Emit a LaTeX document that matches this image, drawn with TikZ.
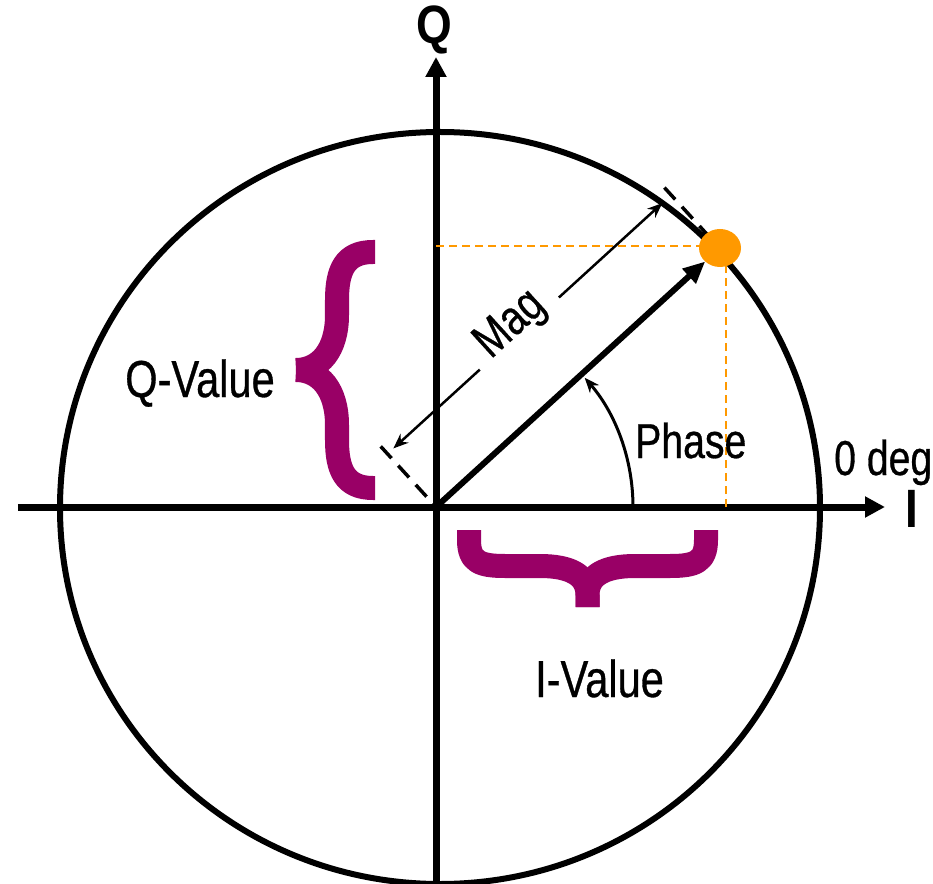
\documentclass[tikz,border=0pt]{standalone}
\usepackage{fontspec}
\setmainfont{Liberation Sans}[FakeStretch=0.8,FakeBold=0.6]
\newfontfamily\axfont{Liberation Sans}[FakeStretch=0.85]
\usetikzlibrary{arrows.meta,shapes.geometric}
\definecolor{braceP}{HTML}{990066}
\definecolor{dotO}{HTML}{FF9900}
\begin{document}
\begin{tikzpicture}[x=1pt,y=1pt,
  axisline/.style={line width=7pt,-{Triangle[length=20pt,width=20pt]}},
  circ/.style={line width=6pt},
  vec/.style={line width=6pt,-{Triangle[length=22pt,width=19pt]}},
  odash/.style={dotO,line width=2pt,dash pattern=on 8pt off 5pt},
  phasearc/.style={line width=3pt,-{Stealth[length=15pt,width=12pt]}},
  dimline/.style={line width=2.5pt,-{Stealth[length=15pt,width=12pt]}},
  extline/.style={line width=3.5pt,dash pattern=on 16pt off 10pt},
  brace/.style={draw=braceP,line width=24pt,line cap=butt,line join=round},
  lbl/.style={font=\fontsize{49}{53}\selectfont,inner sep=0pt},
  vlbl/.style={font=\fontsize{52}{56}\selectfont,inner sep=0pt},
  axlbl/.style={font=\axfont\bfseries\fontsize{54}{58}\selectfont,inner sep=0pt},
  dotstyle/.style={ellipse,fill=dotO,minimum width=42pt,minimum height=38pt,inner sep=0pt,outer sep=0pt}
]
\useasboundingbox (-436,-376) rectangle (497,507);
% circle
\draw[circ] (4,-1) ellipse [x radius=380, y radius=376];
% axes
\coordinate (O) at (0,0);
\coordinate (xl) at (-418,0);
\coordinate (xr) at (449,0);
\coordinate (yb) at (0,-380);
\coordinate (yt) at (0,450);
\draw[axisline] (xl) -- (xr);
\draw[axisline] (yb) -- (yt);
\fill (O) circle (5pt);
% orange projections
\coordinate (qh0) at (0,261);
\coordinate (qh1) at (284,261);
\coordinate (iv0) at (290,0);
\coordinate (iv1) at (290,261);
\draw[odash] (qh0) -- (qh1);
\draw[odash] (iv0) -- (iv1);
% magnitude extension lines
\coordinate (e0a) at (-55.3,60.6);
\coordinate (e1a) at (228.4,319.4);
\coordinate (e1b) at (283.7,258.8);
\draw[extline] (e0a) -- (O);
\draw[extline] (e1a) -- (e1b);
% dot and vector
\node[dotstyle] (dot) at (284,259) {};
\draw[vec] (O) -- (dot);
% phase arc
\coordinate (ph0) at (197,0);
\draw[phasearc] (ph0) arc[start angle=0,end angle=41,radius=197];
% dimension line
\coordinate (d0) at (-42.6,58.6);
\coordinate (g0) at (43.8,137.4);
\coordinate (g1) at (122.9,209.5);
\coordinate (d1) at (226.3,303.9);
\draw[dimline] (g0) -- (d0);
\draw[dimline] (g1) -- (d1);
\node[lbl,anchor=base,rotate=42.37] (mag) at (83.0,173.1) {Mag};
% braces
\draw[brace] (-61,255) -- (-63,255) .. controls (-91,255) and (-99,237) .. (-99,207)
  -- (-99,192) .. controls (-99,157) and (-116,137) .. (-140,137);
\draw[brace] (-61,19) -- (-63,19) .. controls (-91,19) and (-99,37) .. (-99,67)
  -- (-99,82) .. controls (-99,117) and (-116,137) .. (-140,137);
\draw[brace] (33,-23) -- (33,-33) .. controls (33,-55) and (44,-59) .. (69,-59)
  -- (104,-59) .. controls (134,-59) and (151.5,-68) .. (151.5,-88) -- (151.5,-100);
\draw[brace] (270,-23) -- (270,-33) .. controls (270,-55) and (259,-59) .. (234,-59)
  -- (199,-59) .. controls (169,-59) and (151.5,-68) .. (151.5,-88) -- (151.5,-100);
% labels
\node[vlbl,anchor=base] (qval) at (-236,110) {Q-Value};
\node[vlbl,anchor=base] (ival) at (163.5,-190) {I-Value};
\node[lbl,anchor=base west] (phase) at (199,49) {Phase};
\node[lbl,anchor=base west] (zdeg) at (398,32) {0 deg};
\node[axlbl] (qlab) at (-2,477) {Q};
\node[axlbl] (ilab) at (476,-2) {I};
\end{tikzpicture}
\end{document}
